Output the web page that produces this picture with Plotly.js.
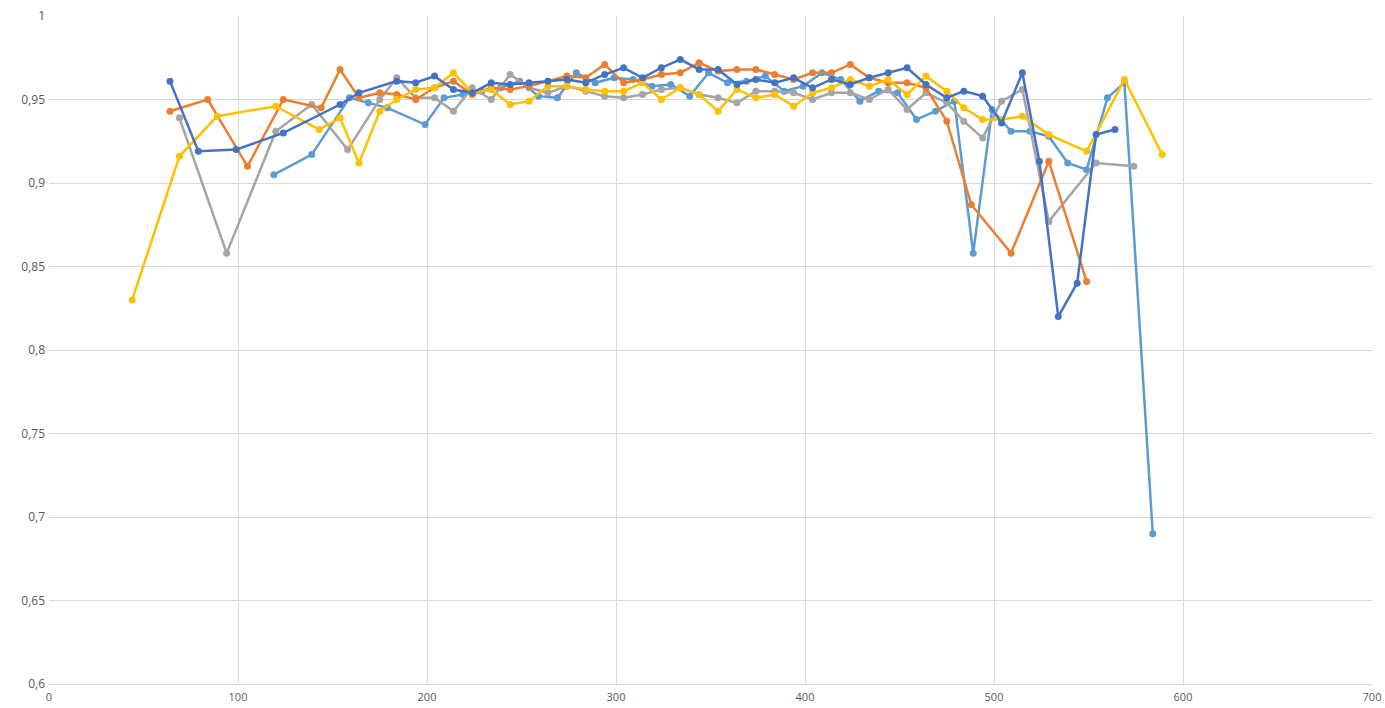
<!DOCTYPE html>
<html>
<head>
<meta charset="utf-8">
<script src="https://cdn.plot.ly/plotly-3.0.1.min.js"></script>
<style>html,body{margin:0;padding:0;background:#fff;}#chart{width:1385px;height:708px;}</style>
</head>
<body>
<div id="chart"></div>
<script>
const darkBlueX = [64,79,99,124,154,164,184,194,204,214,224,234,244,254,264,274,284,294,304,314,324,334,344,354,364,374,384,394,404,414,424,434,444,454,464,475,484,494,504,515,524,534,544,554,564];
const darkBlueY = [0.961,0.919,0.920,0.930,0.947,0.954,0.961,0.960,0.964,0.956,0.954,0.960,0.959,0.960,0.961,0.962,0.960,0.965,0.969,0.963,0.969,0.974,0.968,0.968,0.959,0.962,0.960,0.963,0.957,0.962,0.959,0.963,0.966,0.969,0.959,0.951,0.955,0.952,0.936,0.966,0.913,0.820,0.840,0.929,0.932];

const orangeX = [64,84,105,124,144,154,164,175,184,194,204,214,224,234,244,254,264,274,284,294,304,314,324,334,344,354,364,374,384,394,404,414,424,434,444,454,464,475,488,509,529,549];
const orangeY = [0.943,0.950,0.910,0.950,0.945,0.968,0.951,0.954,0.953,0.950,0.957,0.961,0.953,0.957,0.956,0.958,0.961,0.964,0.963,0.971,0.960,0.962,0.965,0.966,0.972,0.967,0.968,0.968,0.965,0.962,0.966,0.966,0.971,0.963,0.960,0.960,0.957,0.937,0.887,0.858,0.913,0.841];

const grayX = [69,94,120,139,158,175,184,194,204,214,224,234,244,254,264,274,284,294,304,314,324,334,344,354,364,374,384,394,404,414,424,434,444,454,464,475,484,494,504,515,529,554,574];
const grayY = [0.939,0.858,0.931,0.947,0.920,0.950,0.963,0.951,0.951,0.943,0.957,0.950,0.965,0.957,0.954,0.958,0.955,0.952,0.951,0.953,0.956,0.957,0.953,0.951,0.948,0.955,0.955,0.954,0.950,0.954,0.954,0.950,0.956,0.944,0.954,0.948,0.937,0.927,0.949,0.956,0.877,0.912,0.910];

const yellowX = [44,69,89,120,143,154,164,175,184,194,204,214,224,234,244,254,264,274,284,294,304,314,324,334,344,354,364,374,384,394,404,414,424,434,444,454,464,475,484,494,504,515,529,549,569,589];
const yellowY = [0.830,0.916,0.940,0.946,0.932,0.939,0.912,0.943,0.950,0.956,0.957,0.966,0.954,0.956,0.947,0.949,0.958,0.958,0.956,0.955,0.955,0.960,0.950,0.957,0.953,0.943,0.956,0.951,0.953,0.946,0.954,0.957,0.962,0.958,0.962,0.953,0.964,0.955,0.945,0.938,0.938,0.940,0.929,0.919,0.962,0.917];

const lightBlueX = [119,139,159,169,179,199,209,219,229,239,249,259,269,279,289,299,309,319,329,339,349,359,369,379,389,399,409,419,429,439,449,459,469,479,489,499,509,519,529,539,549,560,569,584];
const lightBlueY = [0.905,0.917,0.951,0.948,0.945,0.935,0.951,0.953,0.955,0.957,0.961,0.952,0.951,0.966,0.960,0.963,0.962,0.958,0.959,0.952,0.966,0.960,0.961,0.964,0.955,0.958,0.966,0.962,0.949,0.955,0.954,0.938,0.943,0.949,0.858,0.944,0.931,0.931,0.928,0.912,0.908,0.951,0.960,0.690];

const yTickVals = [0.6,0.65,0.7,0.75,0.8,0.85,0.9,0.95,1];
const yTickText = ["0,6","0,65","0,7","0,75","0,8","0,85","0,9","0,95","1"];
const xTickVals = [0,100,200,300,400,500,600,700];

function tr(x, y, color) {
  return {x: x, y: y, type: 'scatter', mode: 'lines+markers',
    line: {color: color, width: 2.5}, marker: {color: color, size: 7}, showlegend: false, hoverinfo: 'x+y'};
}

const data = [
  tr(lightBlueX, lightBlueY, '#5B9BD5'),
  tr(grayX, grayY, '#A5A5A5'),
  tr(orangeX, orangeY, '#ED7D31'),
  tr(yellowX, yellowY, '#FFC000'),
  tr(darkBlueX, darkBlueY, '#4472C4')
];

const layout = {
  width: 1385, height: 708,
  margin: {l: 49, r: 13, t: 16, b: 24},
  paper_bgcolor: '#ffffff', plot_bgcolor: '#ffffff',
  font: {family: 'Open Sans, Liberation Sans, sans-serif', size: 12, color: '#595959'},
  xaxis: {range: [0, 700], tickvals: xTickVals, showgrid: true, gridcolor: '#D9D9D9', gridwidth: 1,
    zeroline: false, showline: true, linecolor: '#D9D9D9', ticks: '', ticklen: 0, ticklabelstandoff: 3,
    tickfont: {size: 11, color: '#595959'}},
  yaxis: {range: [0.6, 1], tickvals: yTickVals, ticktext: yTickText, showgrid: true, gridcolor: '#D9D9D9', gridwidth: 1,
    zeroline: false, showline: false, ticks: '', ticklabelstandoff: 3, tickfont: {size: 12, color: '#595959'}},
  showlegend: false
};

Plotly.newPlot('chart', data, layout, {displayModeBar: false, staticPlot: true});
</script>
</body>
</html>
